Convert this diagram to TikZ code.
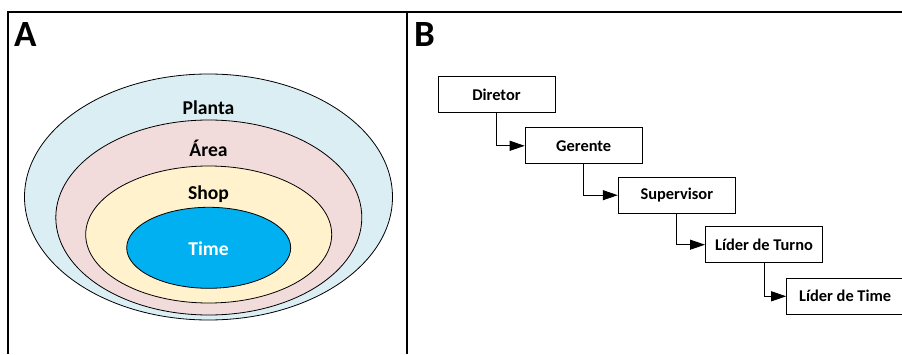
\documentclass[tikz,border=0pt]{standalone}
\usepackage{fontspec}
\setmainfont{Carlito}
\usetikzlibrary{arrows.meta,positioning}
\definecolor{plantablue}{HTML}{DAEEF3}
\definecolor{areapink}{HTML}{F2DCDB}
\definecolor{shopyellow}{HTML}{FFF2CC}
\definecolor{timecyan}{HTML}{00B0F0}
\tikzset{
  level/.style={
    draw=black,
    line width=0.8pt
  },
  levellabel/.style={
    anchor=base,
    inner sep=0pt,
    font=\fontsize{19.6}{22}\selectfont\bfseries
  },
  rank/.style={
    draw=black,
    line width=1pt,
    fill=white,
    minimum width=117pt,
    minimum height=36pt,
    inner sep=0pt,
    font=\fontsize{16.4}{19}\selectfont\bfseries
  },
  report/.style={-{Triangle[length=15pt,width=10pt]}, line width=1pt},
  panelletter/.style={anchor=base west, inner sep=0pt, font=\fontsize{37}{40}\selectfont\bfseries},
  frame/.style={line width=1.2pt}
}

\begin{document}
\begin{tikzpicture}[x=1pt,y=1pt]
  \useasboundingbox (0,0) rectangle (902,354);
  % panel frame
  \draw[frame] (8,0) -- (8,342) -- (902,342);
  \draw[frame] (407,0) -- (407,342);
  \node[panelletter] (letA) at (14,307.3) {A};
  \node[panelletter] (letB) at (414,307) {B};

  % nested levels
  \draw[level, fill=plantablue] (208.5,157) ellipse [x radius=184, y radius=123];
  \draw[level, fill=areapink]   (208.8,136.5) ellipse [x radius=153, y radius=97.5];
  \draw[level, fill=shopyellow] (208.7,119.5) ellipse [x radius=123, y radius=68.5];
  \draw[level, fill=timecyan]   (208.7,106.2) ellipse [x radius=82, y radius=40.5];
  \node[levellabel] (planta) at (208.5,239) {Planta};
  \node[levellabel] (area) at (208.5,197.3) {Área};
  \node[levellabel] (shop) at (208.5,154.7) {Shop};
  \node[levellabel, text=white] (time) at (208.5,99) {Time};

  % chain of command
  \node[rank] (diretor)    at (496.5,259)   {Diretor};
  \node[rank] (gerente)    at (583.7,208.2) {Gerente};
  \node[rank] (supervisor) at (676.8,158.8) {Supervisor};
  \node[rank] (turno)      at (764,109.3)   {Líder de Turno};
  \node[rank] (lidertime)  at (845.2,57.7)  {Líder de Time};
  \draw[report] (diretor.south)    |- (gerente.west);
  \draw[report] (gerente.south)    |- (supervisor.west);
  \draw[report] (supervisor.south) |- (turno.west);
  \draw[report] (turno.south)      |- (lidertime.west);
\end{tikzpicture}
\end{document}
